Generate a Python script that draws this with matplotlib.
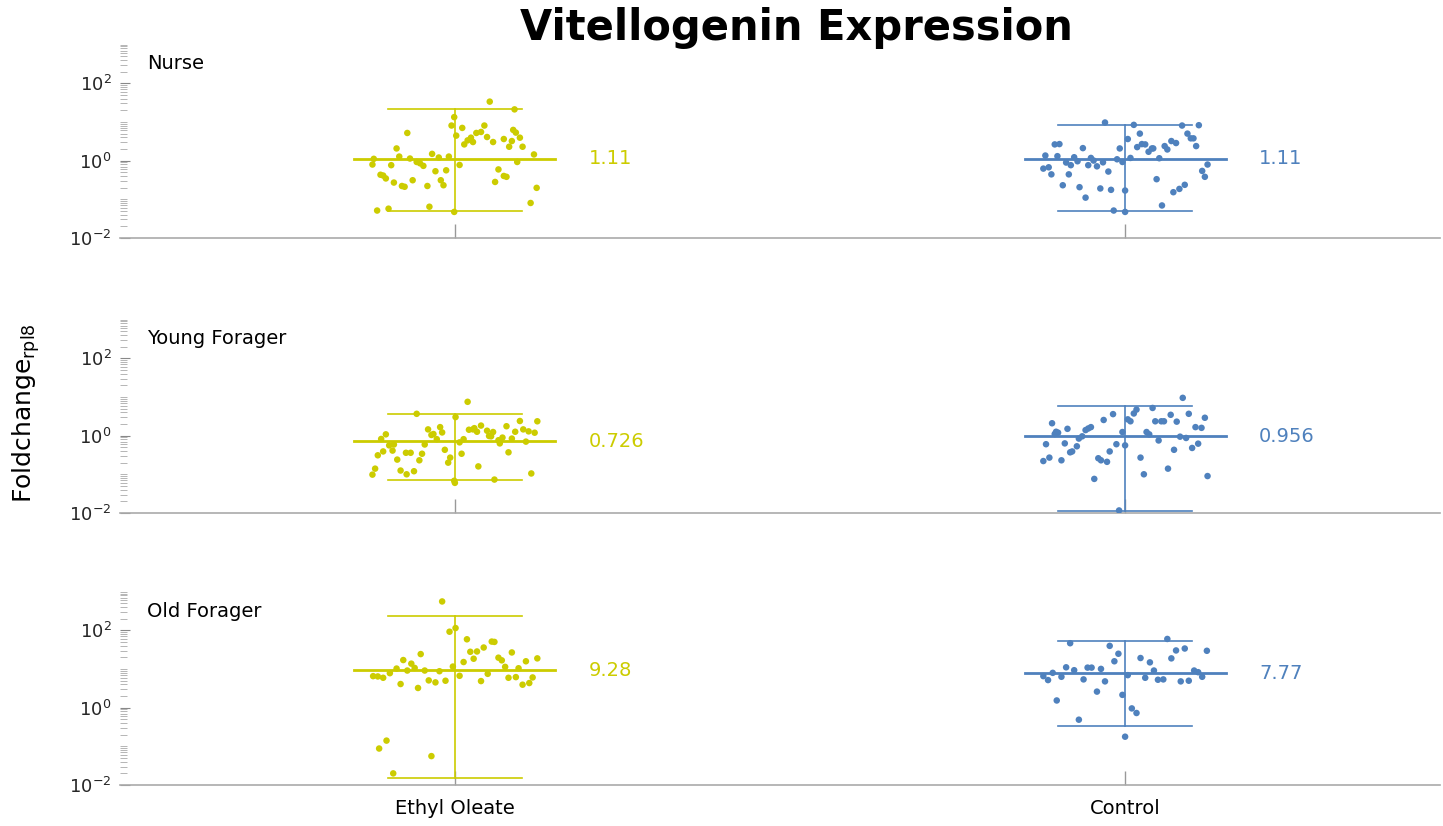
import numpy as np
import matplotlib
matplotlib.use('Agg')
import matplotlib.pyplot as plt
from matplotlib.ticker import LogLocator, NullFormatter, FixedLocator

plt.rcParams['font.family'] = ['DejaVu Sans']

groups = ['Ethyl Oleate', 'Control']
stages = ['Nurse', 'Young Forager', 'Old Forager']
colors = ['#CCCC00', '#4F81BD']

# fold change values, with their horizontal jitter (category units)
nurse_eo = [33.5, 21.1, 13.3, 8.06, 7.0, 8.06, 5.18, 4.42, 5.18, 5.5, 4.07, 6.21, 5.29, 3.91, 3.33,
            3.02, 2.62, 3.02, 3.61, 3.2, 3.91, 2.28, 2.28, 2.06, 1.44, 1.49, 1.27, 1.13, 1.27, 1.2,
            1.11, 0.92, 0.85, 0.73, 0.79, 0.76, 0.77, 0.59, 0.92, 0.53, 0.56, 0.43, 0.41, 0.345, 0.40,
            0.38, 0.31, 0.28, 0.27, 0.31, 0.22, 0.21, 0.22, 0.23, 0.197, 0.080, 0.064, 0.057, 0.051, 0.047]
nurse_eo_jit = [0.052, 0.089, -0.001, -0.005, 0.011, 0.044, -0.071, 0.002, 0.032, 0.039, 0.048, 0.087, 0.091,
                0.024, 0.019, 0.027, 0.014, 0.057, 0.073, 0.085, 0.097, 0.081, 0.101, -0.087, 0.118, -0.034,
                -0.083, -0.067, -0.009, -0.024, -0.121, -0.057, -0.052, -0.047, -0.123, -0.095, 0.007, 0.065,
                0.093, -0.029, -0.013, -0.111, -0.107, -0.103, 0.073, 0.077, -0.021, 0.060, -0.091, -0.063,
                -0.079, -0.075, -0.041, -0.017, 0.122, 0.113, -0.038, -0.099, -0.116, -0.001]

nurse_ct = [9.65, 8.39, 8.06, 8.22, 3.61, 4.98, 4.98, 3.76, 3.76, 2.62, 2.67, 2.67, 2.62, 2.10, 2.06,
            2.23, 1.69, 2.06, 2.06, 2.37, 1.94, 3.2, 2.84, 2.37, 1.35, 1.30, 1.22, 1.17, 1.08, 1.17,
            1.15, 0.96, 1.0, 0.92, 0.89, 0.76, 0.76, 0.71, 0.90, 0.62, 0.67, 0.44, 0.44, 0.52, 0.79,
            0.54, 0.38, 0.33, 0.23, 0.205, 0.19, 0.175, 0.168, 0.11, 0.236, 0.185, 0.152, 0.069, 0.051, 0.047]
nurse_ct_jit = [-0.030, 0.013, 0.085, 0.110, 0.004, 0.022, 0.093, 0.098, 0.102, -0.105, -0.098, 0.025, 0.030,
                -0.063, -0.008, 0.018, 0.035, 0.040, 0.042, 0.059, 0.063, 0.069, 0.076, 0.106, -0.119, -0.101,
                -0.076, -0.051, -0.012, 0.008, 0.051, -0.071, -0.047, -0.004, -0.088, -0.081, -0.055, -0.042,
                -0.033, -0.122, -0.114, -0.110, -0.084, -0.025, 0.123, 0.115, 0.119, 0.047, -0.093, -0.068,
                -0.037, -0.021, 0.0, -0.059, 0.089, 0.081, 0.072, 0.055, -0.017, 0.0]

young_eo = [7.5, 3.67, 3.02, 2.39, 2.35, 1.75, 1.45, 1.66, 1.82, 1.42, 1.56, 1.26, 1.34, 1.24, 1.26,
            1.45, 1.29, 1.19, 1.04, 1.10, 1.08, 1.21, 0.96, 1.45, 0.81, 0.82, 0.81, 0.76, 0.89, 0.84,
            0.70, 0.63, 0.67, 0.59, 0.56, 0.59, 0.98, 0.43, 0.41, 0.39, 0.37, 0.31, 0.34, 0.34, 0.27,
            0.20, 0.23, 0.24, 0.36, 0.36, 0.10, 0.125, 0.12, 0.14, 0.098, 0.16, 0.105, 0.073, 0.068, 0.060]
young_eo_jit = [0.019, -0.057, 0.001, 0.097, 0.123, 0.077, -0.040, -0.022, 0.039, 0.021, 0.029, 0.033, 0.048,
                0.057, 0.090, 0.102, 0.110, 0.119, -0.035, -0.032, -0.103, -0.019, 0.054, 0.027, -0.027,
                -0.110, 0.013, 0.065, 0.071, 0.085, 0.106, 0.067, 0.007, -0.091, -0.098, -0.045, 0.051,
                -0.015, -0.093, -0.107, 0.080, -0.115, -0.049, 0.010, -0.007, -0.010, -0.053, -0.086, -0.073,
                -0.066, -0.072, -0.081, -0.061, -0.119, -0.123, 0.035, 0.114, 0.059, -0.001, 0.0]

young_ct = [9.5, 5.2, 4.72, 3.74, 3.67, 3.46, 3.6, 2.64, 2.35, 2.54, 2.35, 2.35, 2.35, 2.30, 2.09,
            2.9, 1.66, 1.59, 1.50, 1.39, 1.53, 1.66, 1.26, 1.19, 1.10, 1.24, 1.24, 1.08, 0.96, 0.84,
            0.94, 0.87, 0.75, 0.60, 0.63, 0.53, 0.60, 0.56, 0.62, 0.48, 0.43, 0.39, 0.37, 0.39, 0.27,
            0.22, 0.23, 0.26, 0.23, 0.21, 0.27, 0.14, 0.10, 0.090, 0.076, 0.0116]
young_ct_jit = [0.086, 0.041, 0.017, 0.013, 0.095, 0.068, -0.018, 0.004, 0.008, -0.032, 0.045, 0.054, 0.058,
                0.077, -0.109, 0.119, 0.105, 0.114, -0.086, -0.059, -0.055, -0.051, -0.103, -0.100, -0.105,
                -0.004, 0.032, 0.036, -0.064, -0.069, 0.082, 0.091, 0.050, -0.118, -0.090, -0.072, -0.013,
                0.0, 0.109, 0.100, 0.073, -0.079, -0.082, -0.023, -0.113, -0.122, -0.095, -0.040, -0.036,
                -0.027, 0.023, 0.064, 0.028, 0.123, -0.046, -0.009]

old_eo = [561, 92.5, 115, 58.9, 51.4, 50.4, 28.0, 28.5, 36.1, 26.9, 24.4, 17.1, 13.8, 10.7, 15.2,
          18.5, 19.7, 16.8, 11.4, 15.9, 18.9, 10.3, 9.16, 9.16, 8.8, 11.6, 10.5, 7.83, 6.56, 6.44,
          5.95, 6.69, 7.53, 5.95, 6.19, 6.07, 5.09, 4.52, 4.99, 4.89, 4.1, 3.24, 3.94, 4.35,
          0.141, 0.088, 0.056, 0.020]
old_eo_jit = [-0.019, -0.008, 0.001, 0.018, 0.055, 0.059, 0.023, 0.033, 0.043, 0.085, -0.051, -0.077, -0.065,
              -0.060, 0.013, 0.028, 0.065, 0.070, 0.075, 0.106, 0.123, -0.087, -0.071, -0.045, -0.023, -0.003,
              0.095, -0.097, -0.122, -0.115, -0.107, 0.007, 0.049, 0.080, 0.091, 0.116, -0.039, -0.029,
              -0.014, 0.039, -0.081, -0.055, 0.101, 0.111, -0.102, -0.113, -0.035, -0.092]

old_ct = [60.1, 46.6, 39.8, 34.0, 30.3, 29.7, 24.9, 19.3, 18.9, 15.9, 14.9, 11.1, 10.9, 10.9, 10.1,
          9.16, 9.34, 9.16, 8.3, 7.98, 6.56, 5.19, 6.31, 5.4, 4.8, 6.96, 5.95, 5.29, 5.4, 4.8,
          4.99, 6.31, 2.61, 2.15, 1.54, 0.96, 0.73, 0.49, 0.178]
old_ct_jit = [0.063, -0.082, -0.023, 0.089, 0.076, 0.122, -0.010, 0.023, 0.069, -0.016, 0.037, -0.088, -0.056,
              -0.050, -0.036, 0.043, -0.076, 0.103, 0.109, -0.108, -0.122, -0.115, -0.095, -0.062, -0.030,
              0.004, 0.030, 0.049, 0.057, 0.083, 0.095, 0.115, -0.042, -0.004, -0.102, 0.010, 0.017,
              -0.069, 0.0]

# mean (label value) and error bar ends
means = [[1.11, 1.11], [0.726, 0.956], [9.28, 7.77]]
err_low = [[0.051, 0.051], [0.072, 0.0111], [0.0151, 0.327]]
err_high = [[21.1, 8.4], [3.67, 5.7], [237, 53.4]]
mean_labels = [['1.11', '1.11'], ['0.726', '0.956'], ['9.28', '7.77']]

values = [[nurse_eo, nurse_ct], [young_eo, young_ct], [old_eo, old_ct]]
jitters = [[nurse_eo_jit, nurse_ct_jit], [young_eo_jit, young_ct_jit], [old_eo_jit, old_ct_jit]]

fig = plt.figure(figsize=(14.43, 8.26), dpi=100)
bottoms = [0.712, 0.379, 0.0496]
axes = [fig.add_axes([0.083, b, 0.915, 0.234]) for b in bottoms]

for r, ax in enumerate(axes):
    for g in range(2):
        c = colors[g]
        x0 = g + 1
        ax.scatter(x0 + np.array(jitters[r][g]), values[r][g], s=22, color=c,
                   edgecolors='none', zorder=3)
        ax.plot([x0 - 0.15, x0 + 0.15], [means[r][g]] * 2, color=c, lw=2.0, zorder=2)
        ax.plot([x0, x0], [err_low[r][g], err_high[r][g]], color=c, lw=1.2, zorder=2)
        for e in (err_low[r][g], err_high[r][g]):
            ax.plot([x0 - 0.1, x0 + 0.1], [e, e], color=c, lw=1.2, zorder=2)
        ax.text(x0 + 0.2, means[r][g], mean_labels[r][g], color=c, fontsize=14,
                va='center', ha='left')

    ax.set_yscale('log')
    ax.set_ylim(1e-2, 1e3)
    ax.set_xlim(0.5, 2.47)
    ax.yaxis.set_major_locator(FixedLocator([1e-2, 1e0, 1e2]))
    ax.yaxis.set_minor_locator(LogLocator(base=10, subs=np.arange(1, 10), numticks=20))
    ax.yaxis.set_minor_formatter(NullFormatter())
    ax.set_xticks([1, 2])
    if r == 2:
        ax.set_xticklabels(groups, fontsize=14)
    else:
        ax.set_xticklabels([])
    ax.tick_params(axis='x', direction='in', length=10, color='#999999', width=1, pad=10)
    ax.tick_params(axis='y', which='major', direction='in', length=7, color='#888888',
                   labelsize=13, labelcolor='#262626', pad=6)
    ax.tick_params(axis='y', which='minor', direction='in', length=5, color='#aaaaaa')
    for s in ['top', 'right', 'left']:
        ax.spines[s].set_visible(False)
    ax.spines['bottom'].set_color('#aaaaaa')
    ax.spines['bottom'].set_linewidth(1.2)
    ax.text(0.021, 0.9, stages[r], transform=ax.transAxes, fontsize=14, va='center', ha='left')

fig.text(0.552, 0.966, 'Vitellogenin Expression', fontsize=30, fontweight='bold',
         ha='center', va='center')
fig.text(0.018, 0.5, 'Foldchange$_{\\mathregular{rpl8}}$', fontsize=18, rotation=90,
         ha='center', va='center')

fig.savefig('out.png', dpi=100)
